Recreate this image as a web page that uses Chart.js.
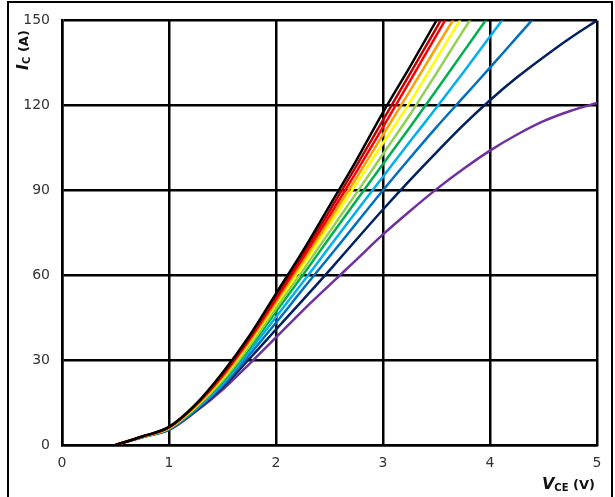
<!DOCTYPE html>
<html>
<head>
<meta charset="utf-8">
<script src="https://cdn.jsdelivr.net/npm/chart.js@4"></script>
<style>
  body { margin: 0; background: #fff; }
  #wrap { position: relative; width: 615px; height: 497px; overflow: hidden; }
  #frame { position: absolute; left: 7px; top: 1px; width: 602px; height: 520px; border: 2px solid #000; pointer-events: none; }
  .ttl { position: absolute; font-family: 'DejaVu Sans', Verdana, sans-serif; font-weight: bold; color: #111; white-space: nowrap; font-size: 13px; line-height: 16px; }
  .ttl i { font-size: 16px; }
  .ttl sub { font-size: 10px; vertical-align: -2px; }
  #ytitle { left: 25px; top: 50px; transform: translate(-50%, -50%) rotate(-90deg); }
  #xtitle { right: 20px; top: 476px; }
</style>
</head>
<body>
<div id="wrap">
  <canvas id="myCanvas" width="615" height="497"></canvas>
  <div id="frame"></div>
  <div class="ttl" id="ytitle"><i>I</i><sub>C</sub> (A)</div>
  <div class="ttl" id="xtitle"><i>V</i><sub>CE</sub> (V)</div>
</div>
<script>
'use strict';

// global variables

// collector-emitter voltage (V), shared by all curves
const vce = [0.5, 0.75, 1, 1.25, 1.5, 1.75, 2, 2.25, 2.5, 2.75, 3, 3.25, 3.5, 3.75, 4, 4.25, 4.5, 4.75, 5];

// collector current (A) for each curve
const iBlack = [0, 3.0, 6.4, 14.4, 25.5, 38.5, 53.5, 68.5, 84.5, 100.5, 117.5, 133.5, 150, 166];
const iDarkRed = [0, 3.0, 6.3, 14.2, 25.0, 37.8, 52.5, 67.3, 82.7, 98.5, 114.8, 131, 147.4, 164];
const iRed = [0, 2.95, 6.2, 14.0, 24.5, 37.2, 51.5, 66, 81, 96.4, 112.3, 128.5, 144.8, 161];
const iOrange = [0, 2.95, 6.1, 13.8, 24.0, 36.6, 50.5, 64.8, 79.4, 94.3, 109.6, 125, 140.6, 156];
const iYellow = [0, 2.9, 6.0, 13.6, 23.5, 36.0, 49.7, 63.5, 77.8, 92.3, 106.7, 121, 136.5, 152];
const iLightGreen = [0, 2.9, 5.9, 13.3, 22.8, 34.8, 48.3, 61.6, 75.3, 88.9, 102.8, 116.6, 131.4, 146.4, 161];
const iGreen = [0, 2.85, 5.8, 13.0, 22.3, 34.1, 47.1, 60, 73.2, 86.3, 99.3, 112.2, 125.4, 138.8, 152.2, 166];
const iSkyBlue = [0, 2.85, 5.7, 12.7, 21.6, 33.0, 45.2, 57.5, 70.0, 82.5, 94.8, 107.1, 119.2, 131.6, 144.3, 157];
const iBlue = [0, 2.8, 5.6, 12.4, 21.0, 31.8, 43.2, 55, 66.6, 78.3, 90, 101.3, 112.3, 122.8, 133.3, 144, 154.7];
const iNavy = [0, 2.8, 5.5, 12.1, 20.3, 30.4, 40.8, 51.2, 61.7, 72.5, 83.2, 93.5, 103.4, 113, 121.8, 129.8, 137, 143.8, 150];
const iPurple = [0, 2.75, 5.3, 11.8, 19.5, 28.6, 38, 47.5, 56.5, 65.4, 74.4, 82.6, 90.4, 97.5, 104, 109.6, 114.4, 118, 120.8];

const seriesValues = [iBlack, iDarkRed, iRed, iOrange, iYellow, iLightGreen, iGreen, iSkyBlue, iBlue, iNavy, iPurple];
const seriesColors = ['#000000', '#C00000', '#FF0000', '#FFA000', '#FFFF00', '#92D050', '#00B050', '#00B0F0', '#0070C0', '#002060', '#7030A0'];

const xTicks = [0, 1, 2, 3, 4, 5];
const yTicks = [0, 30, 60, 90, 120, 150];

// functional logic

function makePoints(values) {
  let points = [];
  for (let i = 0; i < values.length; i++) {
    points.push({ x: vce[i], y: values[i] });
  }
  return points;
}

function renderChart() {
  let datasets = [];
  for (let i = 0; i < seriesValues.length; i++) {
    datasets.push({
      data: makePoints(seriesValues[i]),
      borderColor: seriesColors[i],
      backgroundColor: seriesColors[i],
      borderWidth: 2.5,
      pointRadius: 0,
      cubicInterpolationMode: 'monotone',
      fill: false
    });
  }
  const tickFont = { family: "'DejaVu Sans', Verdana, sans-serif", size: 14 };
  const config = {
    type: 'line',
    data: { datasets: datasets },
    options: {
      responsive: false,
      animation: false,
      layout: { padding: { top: 19, right: 18, left: 0, bottom: 0 } },
      plugins: { legend: { display: false }, tooltip: { enabled: false } },
      scales: {
        x: {
          type: 'linear',
          min: xTicks[0],
          max: xTicks[xTicks.length - 1],
          afterBuildTicks: (scale) => { scale.ticks = xTicks.map(v => ({ value: v })); },
          afterFit: (scale) => { scale.height = 52; },
          grid: { color: '#000', lineWidth: 2.5, drawTicks: false },
          border: { color: '#000', width: 2.5 },
          ticks: { color: '#333', font: tickFont, padding: 10, maxRotation: 0 }
        },
        y: {
          min: yTicks[0],
          max: yTicks[yTicks.length - 1],
          afterBuildTicks: (scale) => { scale.ticks = yTicks.map(v => ({ value: v })); },
          afterFit: (scale) => { scale.width = 62; },
          grid: { color: '#000', lineWidth: 2.5, drawTicks: false },
          border: { color: '#000', width: 2.5 },
          ticks: { color: '#333', font: tickFont, padding: 12 }
        }
      }
    }
  };
  const chart = document.getElementById('myCanvas');
  const myChart = new Chart(chart, config);
}

// code that runs on page load:

renderChart();
</script>
</body>
</html>
